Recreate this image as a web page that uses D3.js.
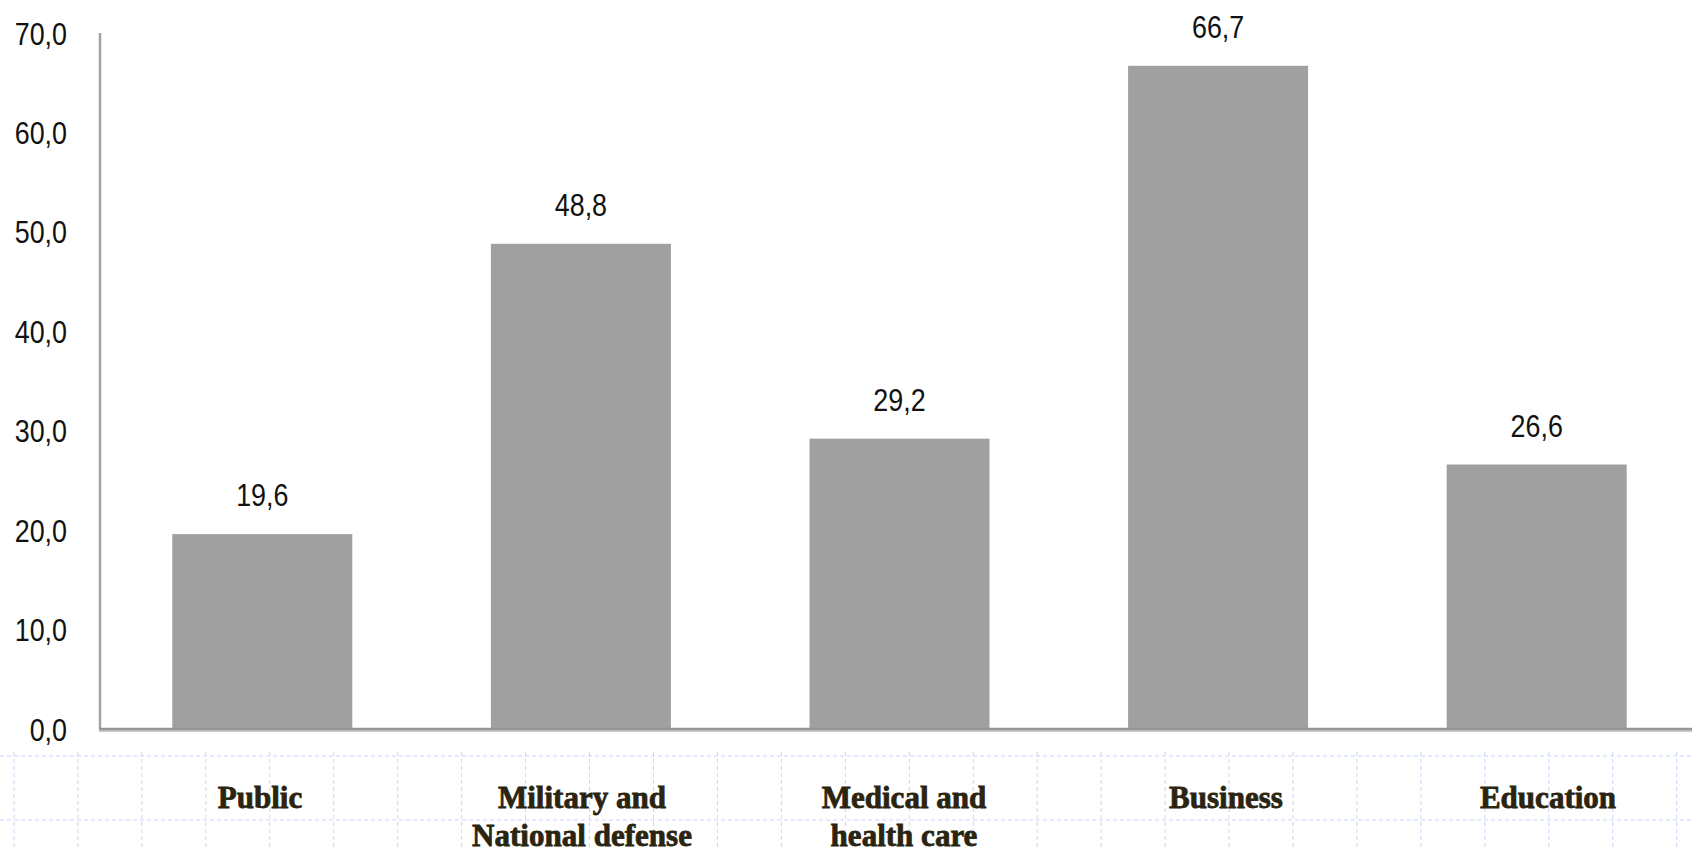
<!DOCTYPE html>
<html>
<head>
<meta charset="utf-8">
<script src="https://cdn.jsdelivr.net/npm/d3@7"></script>
<style>
  body { margin: 0; background: #fff; }
  svg { display: block; }
</style>
</head>
<body>
<div id="chart"></div>
<script>
// chart data
const categories = ["Public", "Military and National defense", "Medical and health care", "Business", "Education"];
const labelLines = [["Public"], ["Military and", "National defense"], ["Medical and", "health care"], ["Business"], ["Education"]];
const values = [19.6, 48.8, 29.2, 66.7, 26.6];
const yTicks = [0, 10, 20, 30, 40, 50, 60, 70];

const W = 1694, H = 849;
const svg = d3.select("#chart").append("svg")
    .attr("width", W)
    .attr("height", H);

// dashed background grid (bottom area)
const gridColor = "#c9d5f7";
const grid = svg.append("g");
[756, 820].forEach(function(gy) {
  grid.append("line")
    .attr("x1", 0).attr("x2", W)
    .attr("y1", gy).attr("y2", gy)
    .attr("stroke", gridColor).attr("stroke-width", 1)
    .attr("stroke-dasharray", "4,3");
});
d3.range(14, W, 63.95).forEach(function(gx) {
  grid.append("line")
    .attr("x1", gx).attr("x2", gx)
    .attr("y1", 752).attr("y2", H)
    .attr("stroke", gridColor).attr("stroke-width", 1)
    .attr("stroke-dasharray", "4,3");
});

// scales
const x = d3.scaleBand()
    .domain(categories)
    .range([103, 1696])
    .paddingInner(0.435)
    .paddingOuter(0.2175);

// category labels sit in their own columns
const xLabel = d3.scaleBand()
    .domain(categories)
    .range([99, 1709]);

const y = d3.scaleLinear()
    .domain([0, 70])
    .range([729, 33]);

const fmt = function(v) { return d3.format(".1f")(v).replace(".", ","); };
const numFont = "'Liberation Sans', Arial, sans-serif";

// bars
svg.append("g").selectAll("rect")
  .data(values)
  .join("rect")
    .attr("x", function(d, i) { return x(categories[i]); })
    .attr("y", function(d) { return y(d); })
    .attr("width", x.bandwidth())
    .attr("height", function(d) { return y(0) - y(d); })
    .attr("fill", "#a0a0a0");

// y axis line
svg.append("line")
    .attr("x1", 100).attr("x2", 100)
    .attr("y1", y(70)).attr("y2", y(0))
    .attr("stroke", "#a3a3a3").attr("stroke-width", 2.5);

// baseline
svg.append("line")
    .attr("x1", 99).attr("x2", 1692)
    .attr("y1", y(0) + 1).attr("y2", y(0) + 1)
    .attr("stroke", "#c8c8c8").attr("stroke-width", 4);
svg.append("line")
    .attr("x1", 99).attr("x2", 1692)
    .attr("y1", y(0)).attr("y2", y(0))
    .attr("stroke", "#969696").attr("stroke-width", 2.5);

// y tick labels
svg.append("g").selectAll("text")
  .data(yTicks)
  .join("text")
    .attr("transform", function(d) { return "translate(67," + (y(d) + 11.5) + ") scale(0.84,1)"; })
    .attr("text-anchor", "end")
    .attr("font-family", numFont)
    .attr("font-size", 32)
    .attr("fill", "#111")
    .text(fmt);

// value labels
svg.append("g").selectAll("text")
  .data(values)
  .join("text")
    .attr("transform", function(d, i) {
      return "translate(" + (x(categories[i]) + x.bandwidth() / 2) + "," + (y(d) - 28) + ") scale(0.84,1)";
    })
    .attr("text-anchor", "middle")
    .attr("font-family", numFont)
    .attr("font-size", 32)
    .attr("fill", "#111")
    .text(fmt);

// category labels
const cat = svg.append("g").selectAll("text")
  .data(categories)
  .join("text")
    .attr("transform", function(d) { return "translate(" + (xLabel(d) + xLabel.bandwidth() / 2) + ",808) scale(0.97,1)"; })
    .attr("text-anchor", "middle")
    .attr("font-family", "'Liberation Serif', 'Times New Roman', serif")
    .attr("font-weight", "bold")
    .attr("font-size", 32)
    .attr("fill", "#2a2410")
    .attr("stroke", "#2a2410")
    .attr("stroke-width", 0.8);

cat.each(function(d, i) {
  const t = d3.select(this);
  labelLines[i].forEach(function(line, j) {
    t.append("tspan")
      .attr("x", 0)
      .attr("dy", j === 0 ? 0 : 38)
      .text(line);
  });
});
</script>
</body>
</html>
